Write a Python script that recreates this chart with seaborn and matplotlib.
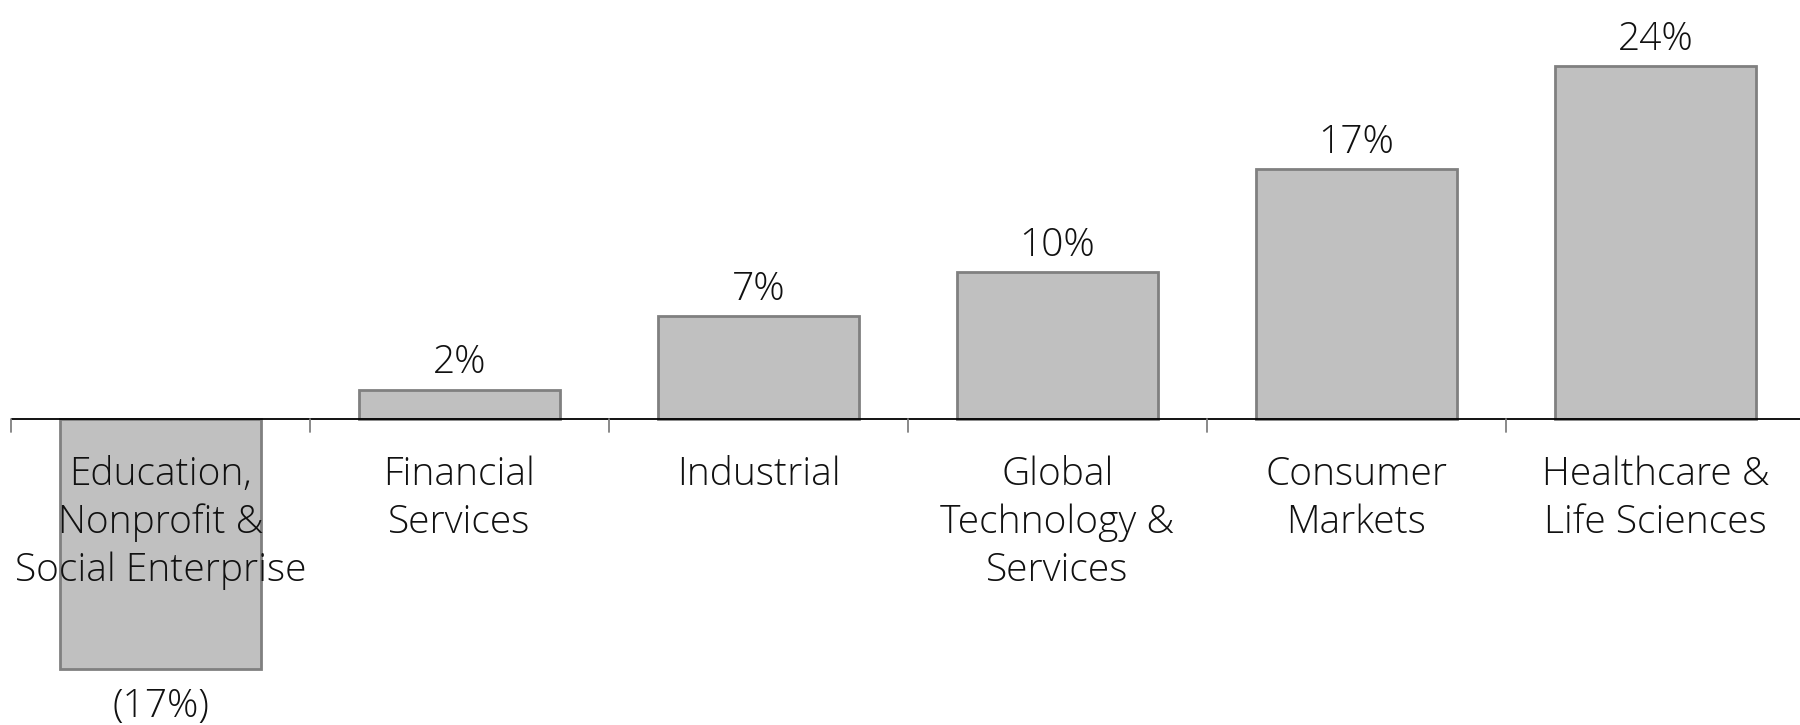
import matplotlib
matplotlib.use("Agg")
import matplotlib.pyplot as plt
import seaborn as sns
import pandas as pd

# Change by sector, in percent
sectors = [
    "Education,\nNonprofit &\nSocial Enterprise",
    "Financial\nServices",
    "Industrial",
    "Global\nTechnology &\nServices",
    "Consumer\nMarkets",
    "Healthcare &\nLife Sciences",
]
values = [-17, 2, 7, 10, 17, 24]
value_labels = ["(17%)", "2%", "7%", "10%", "17%", "24%"]

sns.set_theme(style="white")
plt.rcParams["font.family"] = ["Open Sans", "DejaVu Sans"]

TEXT_KW = dict(fontsize=28, fontweight=300, color="#111111")

df = pd.DataFrame({"sector": sectors, "value": values})

fig = plt.figure(figsize=(18, 7.25), dpi=100)
ax = fig.add_axes([11 / 1800, 0, 1 - 11 / 1800, 1])

sns.barplot(data=df, x="sector", y="value", color="#c0c0c0", saturation=1,
            width=0.67, edgecolor="#808080", linewidth=2, ax=ax, zorder=2)

ax.set_xlim(-0.5, 5.5 - 5 / 299)
ax.set_ylim(-20.8, 28.5)

for s in ax.spines.values():
    s.set_visible(False)
ax.axhline(0, color="black", linewidth=1.3, zorder=3)

ax.set_yticks([])
ax.set_xticks([])
ax.set_xlabel("")
ax.set_ylabel("")

# tick marks on the category boundaries
for b in [i - 0.5 for i in range(6)]:
    ax.plot([b, b], [0, -0.85], color="#808080", linewidth=1.3, zorder=3,
            clip_on=False)

# category names below the baseline
for i, name in enumerate(sectors):
    ax.text(i, -2.45, name, ha="center", va="top", linespacing=1.33,
            zorder=4, **TEXT_KW)

# value labels
for i, (v, lab) in enumerate(zip(values, value_labels)):
    if v >= 0:
        ax.text(i, v + 0.5, lab, ha="center", va="bottom", **TEXT_KW)
    else:
        ax.text(i, v - 1.25, lab, ha="center", va="top", **TEXT_KW)

fig.savefig("out.png", dpi=100, facecolor="white")
